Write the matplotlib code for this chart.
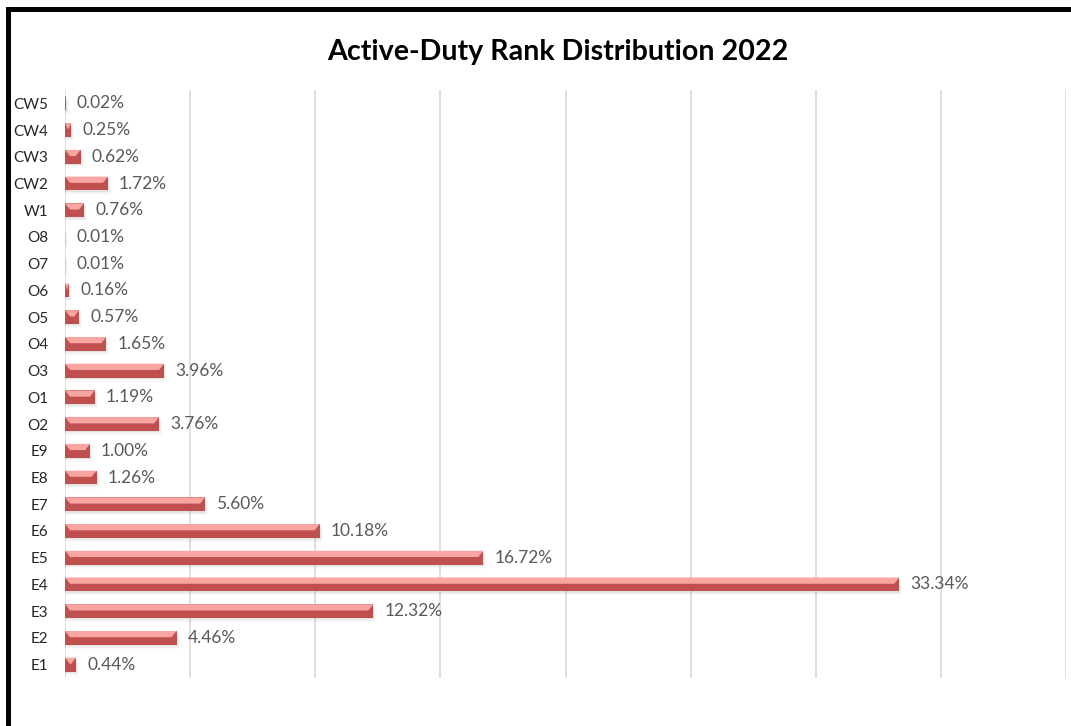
import matplotlib
matplotlib.use("Agg")
import matplotlib.pyplot as plt
from matplotlib.patches import Polygon, Rectangle
from matplotlib.lines import Line2D

# Rank categories, listed from the bottom of the chart upward
ranks = ["E1", "E2", "E3", "E4", "E5", "E6", "E7", "E8", "E9",
         "O2", "O1", "O3", "O4", "O5", "O6", "O7", "O8",
         "W1", "CW2", "CW3", "CW4", "CW5"]
# Share of the active-duty force in each rank (percent)
shares = [0.44, 4.46, 12.32, 33.34, 16.72, 10.18, 5.60, 1.26, 1.00,
          3.76, 1.19, 3.96, 1.65, 0.57, 0.16, 0.01, 0.01,
          0.76, 1.72, 0.62, 0.25, 0.02]
title = "Active-Duty Rank Distribution 2022"
grid_ticks = list(range(0, 41, 5))

FONT = ["Lato", "DejaVu Sans"]
DARK = "#C0504D"
LIGHT = "#F9A5A2"
GRID = "#D9D9D9"

W, H = 1071, 726
fig = plt.figure(figsize=(W / 100, H / 100), dpi=100)
fig.patch.set_facecolor("white")

ax = fig.add_axes([65 / W, 1 - 678 / H, (1066 - 65) / W, (678 - 90) / H])
ax.set_xlim(0, 40)
ax.set_ylim(-0.5, len(ranks) - 0.5)

bar_h = 0.52
bevel = 0.2  # bevel width in percent units

# soft drop shadow under each bar
for i, v in enumerate(shares):
    for k, a in enumerate([0.10, 0.07, 0.04]):
        off = 0.05 * (k + 1)
        ax.add_patch(Rectangle((0, i - bar_h / 2 - off), v + 0.04 * (k + 1), bar_h,
                               facecolor="#808080", alpha=a, edgecolor="none", zorder=2))

# base bars (darker lower face)
ax.barh(range(len(ranks)), shares, height=bar_h, color=DARK, edgecolor="none", zorder=3)

# lighter bevelled top face
for i, v in enumerate(shares):
    top = i + bar_h / 2
    mid = top - bar_h * 0.45
    b = min(bevel, v / 2)
    ax.add_patch(Polygon([(0, top), (v, top), (v - b, mid), (b, mid)],
                         closed=True, facecolor=LIGHT, edgecolor="none", zorder=4))

# value labels
for i, v in enumerate(shares):
    ax.annotate(f"{v:.2f}%", xy=(v, i), xytext=(11, 0), textcoords="offset pixels",
                ha="left", va="center", fontsize=12.5, color="#595959", family=FONT)

ax.set_yticks(range(len(ranks)))
ax.set_yticklabels(ranks, family=FONT, fontsize=11, color="#262626")
ax.set_xticks(grid_ticks)
ax.set_xticklabels([])
ax.tick_params(axis="both", length=0)
ax.tick_params(axis="y", pad=12)
ax.xaxis.grid(True, color=GRID, linewidth=1.2, zorder=0)
ax.set_axisbelow(True)
for s in ax.spines.values():
    s.set_visible(False)

fig.text(558 / W, 1 - 52 / H, title, ha="center", va="center",
         fontsize=20.6, fontweight="bold", color="#000000", family=FONT)

# black frame on the left and top
fig.add_artist(Line2D([7.5 / W, 7.5 / W], [0, 1 - 8.5 / H], color="black",
                      lw=3.6, transform=fig.transFigure, solid_capstyle="projecting"))
fig.add_artist(Line2D([7.5 / W, 1.0], [1 - 8.5 / H, 1 - 8.5 / H], color="black",
                      lw=3.6, transform=fig.transFigure, solid_capstyle="projecting"))

fig.savefig("out.png", dpi=100, facecolor="white")
